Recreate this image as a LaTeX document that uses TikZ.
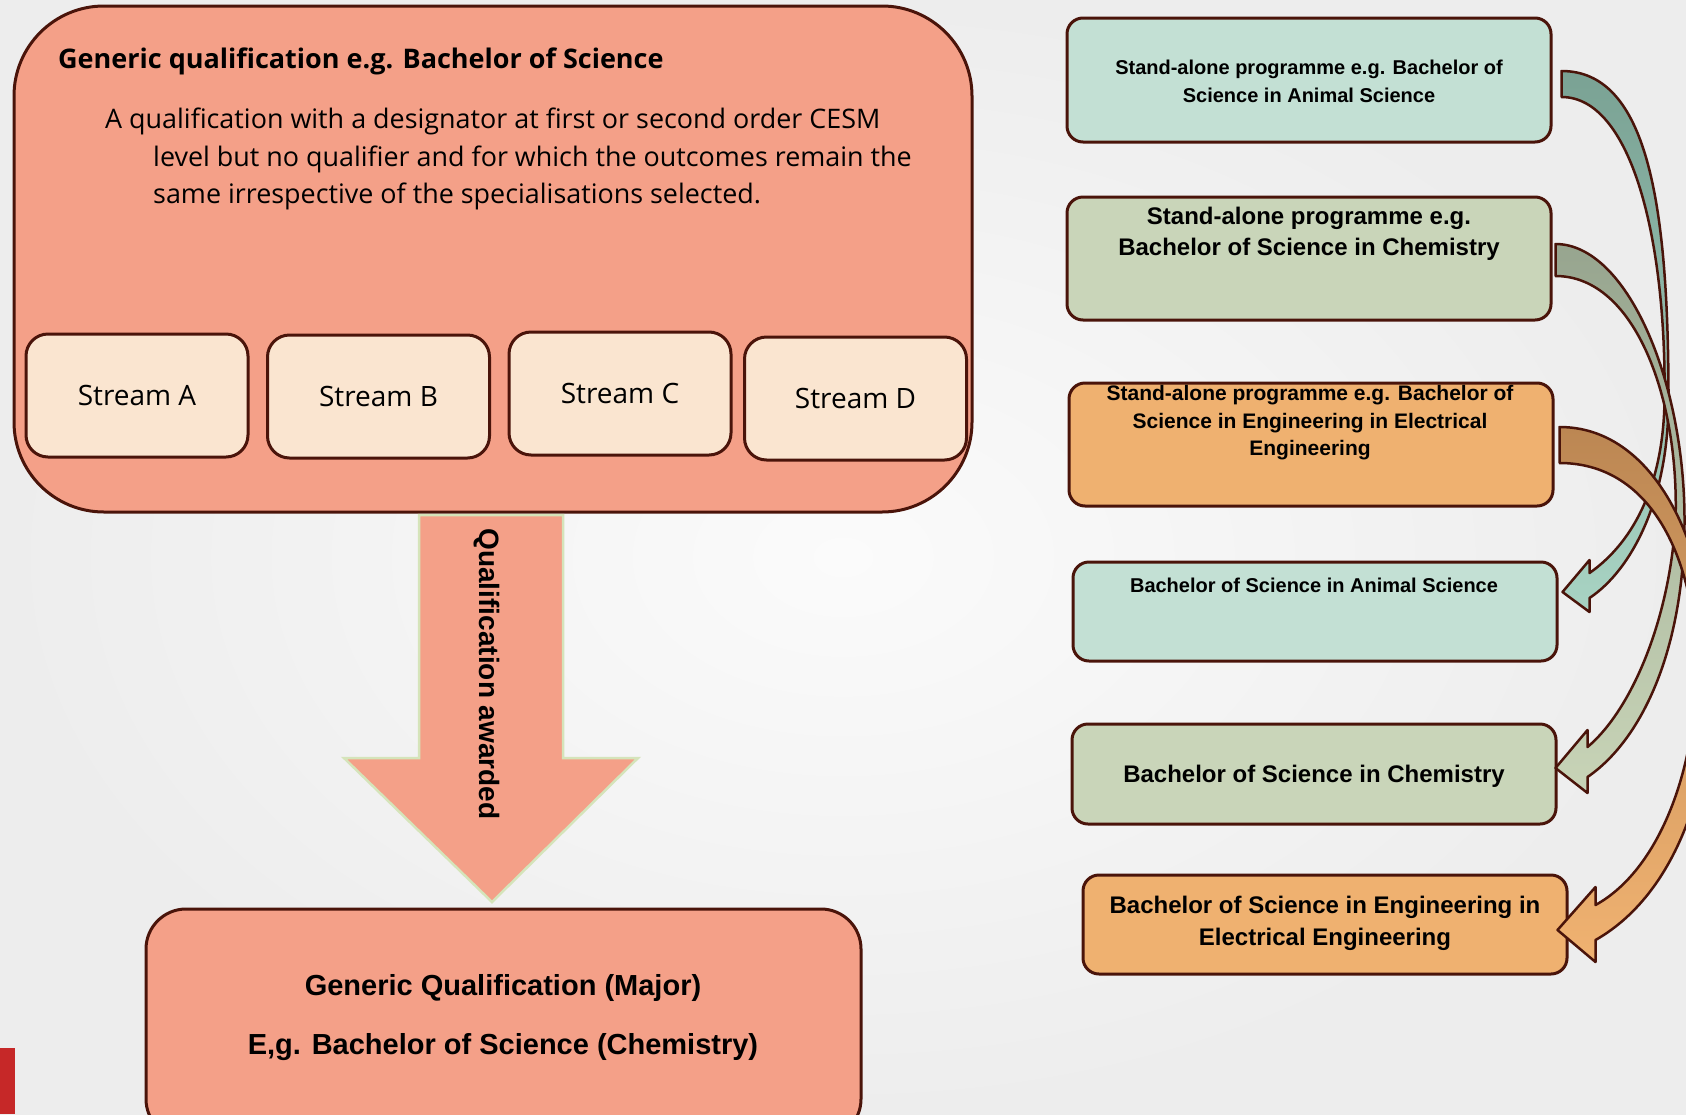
\documentclass[tikz,border=0pt]{standalone}
\usepackage{fontspec}
\setmainfont{Open Sans}
\newfontfamily\arialf{Liberation Sans}
\usetikzlibrary{calc}
\definecolor{bgA}{HTML}{FBFBFB}
\definecolor{bgB}{HTML}{EDEDED}
\definecolor{cSalmon}{HTML}{F4A088}
\definecolor{cCream}{HTML}{FAE5D0}
\definecolor{cEdge}{HTML}{4A140A}
\definecolor{cTeal}{HTML}{C3E0D4}
\definecolor{cSage}{HTML}{C9D5B9}
\definecolor{cOrange}{HTML}{EFB170}
\definecolor{cArrGreen}{HTML}{D5E4BA}
\definecolor{cRed}{HTML}{C62828}
\definecolor{cTealDark}{HTML}{7AA294}
\definecolor{cTealHead}{HTML}{A8D3C3}
\definecolor{cSageDark}{HTML}{97A58F}
\definecolor{cSageHead}{HTML}{C8D4B7}
\definecolor{cBrown}{HTML}{BC8753}
\definecolor{cOrHead}{HTML}{F0B271}
\tikzset{
  streambox/.style={draw=cEdge, line width=3pt, fill=cCream, rounded corners=22pt,
    minimum width=222pt, minimum height=123pt, inner sep=0pt,
    font=\fontsize{28}{32}\selectfont},
  rbox/.style={draw=cEdge, line width=3pt, rounded corners=16pt,
    minimum width=484pt, inner sep=0pt},
  rtext/.style={align=center, inner sep=0pt, font=\arialf\bfseries},
  bodyline/.style={anchor=base west, inner sep=0pt, font=\fontsize{26.9}{30}\selectfont},
  curvearr/.style={draw=cEdge, line width=2.5pt, line join=round},
}
\begin{document}
\begin{tikzpicture}[x=1pt,y=-1pt]
\useasboundingbox (0,0) rectangle (1686,1114);
\shade[inner color=bgA, outer color=bgB] (0,0) rectangle (1686,1114);
\begin{scope}
\clip (0,0) rectangle (1686,1114);

% big generic box
\node[draw=cEdge, line width=3pt, fill=cSalmon, rounded corners=90pt,
      minimum width=958pt, minimum height=506pt, inner sep=0pt] (gen) at (493,259) {};
\node[anchor=base west, inner sep=0pt, font=\bfseries\fontsize{27}{30}\selectfont] (title) at (58,68)
  {Generic qualification e.g. Bachelor of Science};
\node[bodyline] (body1) at (105,128)
  {A qualification with a designator at first or second order CESM};
\node[bodyline] (body2) at (153,166)
  {level but no qualifier and for which the outcomes remain the};
\node[bodyline] (body3) at (153,203)
  {same irrespective of the specialisations selected.};

\node[streambox] (sA) at (137,395.5) {Stream A};
\node[streambox] (sB) at (378.5,396.5) {Stream B};
\node[streambox] (sC) at (620,393.5) {Stream C};
\node[streambox] (sD) at (855.5,398.5) {Stream D};

% bottom box
\node[draw=cEdge, line width=3pt, fill=cSalmon, rounded corners=40pt,
      minimum width=715pt, minimum height=230pt, inner sep=0pt] (maj) at (503.5,1024) {};
\node[rtext, font=\arialf\bfseries\fontsize{29}{34}\selectfont] (majt1) at (503,988) {Generic Qualification (Major)};
\node[rtext, font=\arialf\bfseries\fontsize{29}{34}\selectfont] (majt2) at (503,1047) {E,g. Bachelor of Science (Chemistry)};

% big down arrow
\draw[fill=cSalmon, draw=cArrGreen, line width=2.5pt, line join=miter]
  (419,515) -- (563,515) -- (563,758) -- (638,758) -- (492,902) -- (344,758) -- (419,758) -- cycle;
\node[rotate=-90, inner sep=0pt, font=\arialf\bfseries\fontsize{28}{32}\selectfont] (qa) at (487,674) {Qualification awarded};

% red bar
\fill[cRed] (0,1048) rectangle (15,1114);

% right boxes
\node[rbox, fill=cTeal, minimum height=124pt] (r1) at (1309,80) {};
\node[rtext, font=\arialf\bfseries\fontsize{20}{28}\selectfont] (r1t) at (1309,81)
  {Stand-alone programme e.g. Bachelor of\\Science in Animal Science};
\node[rbox, fill=cSage, minimum height=123pt] (r2) at (1309,258.5) {};
\node[rtext, font=\arialf\bfseries\fontsize{24}{31}\selectfont] (r2t) at (1309,233.5)
  {Stand-alone programme e.g.\\Bachelor of Science in Chemistry};
\node[rbox, fill=cOrange, minimum height=123pt] (r3) at (1311,444.5) {};
\node[rtext, font=\arialf\bfseries\fontsize{21}{27.5}\selectfont] (r3t) at (1310,423)
  {Stand-alone programme e.g. Bachelor of\\Science in Engineering in Electrical\\Engineering};
\node[rbox, fill=cTeal, minimum height=99pt] (r4) at (1315,611.5) {};
\node[rtext, font=\arialf\bfseries\fontsize{20}{24}\selectfont] (r4t) at (1314,585)
  {Bachelor of Science in Animal Science};
\node[rbox, fill=cSage, minimum height=100pt] (r5) at (1314,774) {};
\node[rtext, font=\arialf\bfseries\fontsize{24}{30}\selectfont] (r5t) at (1314,776)
  {Bachelor of Science in Chemistry};
\node[rbox, fill=cOrange, minimum height=99pt] (r6) at (1325,924.5) {};
\node[rtext, font=\arialf\bfseries\fontsize{24}{32}\selectfont] (r6t) at (1325,923)
  {Bachelor of Science in Engineering in\\Electrical Engineering};

% curved arrows
% arrow 1: r1 -> r4
\path (r1.east) ++(9,-9) coordinate (t1a) ++(0,26) coordinate (t1b);
\path (r4.east) ++(4,-19.5) coordinate (h1);
\draw[curvearr, top color=cTealDark, bottom color=cTealHead]
  (t1a) .. controls +(85,0) and +(0,-200) .. ($(h1)+(106,-192)$)
  .. controls +(0,100) and +(42,-28) .. ($(h1)+(27,6)$)
  -- ($(h1)+(27,20)$) -- (h1) -- ($(h1)+(27,-32)$) -- ($(h1)+(27,-19)$)
  .. controls +(47,-33) and +(-1,80) .. ($(h1)+(102,-192)$)
  .. controls +(2,-160) and +(70,0) .. (t1b) -- cycle;

% arrow 2: r2 -> r5
\path (r2.east) ++(3,-14.5) coordinate (t2a) ++(0,32) coordinate (t2b);
\path (r5.east) ++(-2,-6) coordinate (h2);
\draw[curvearr, top color=cSageDark, bottom color=cSageHead]
  (t2a) .. controls +(71,0) and +(0,-140) .. ($(h2)+(129,-248)$)
  .. controls +(0,130) and +(54,-37) .. ($(h2)+(32,9)$)
  -- ($(h2)+(32,25)$) -- (h2) -- ($(h2)+(32,-38)$) -- ($(h2)+(32,-21)$)
  .. controls +(44,-37) and +(-6,100) .. ($(h2)+(120,-248)$)
  .. controls +(4,-120) and +(80,0) .. (t2b) -- cycle;

% arrow 3: r3 -> r6
\path (r3.east) ++(5,-17.5) coordinate (t3a) ++(0,36) coordinate (t3b);
\path (r6.east) ++(-11,5.5) coordinate (h3);
\draw[curvearr, top color=cBrown, bottom color=cOrHead]
  (t3a) .. controls +(178,0) and +(176,-100) .. ($(h3)+(38,10)$)
  -- ($(h3)+(38,32)$) -- (h3) -- ($(h3)+(38,-43)$) -- ($(h3)+(38,-25)$)
  .. controls +(136,-75) and +(180,0) .. (t3b) -- cycle;
\end{scope}
\end{tikzpicture}
\end{document}
